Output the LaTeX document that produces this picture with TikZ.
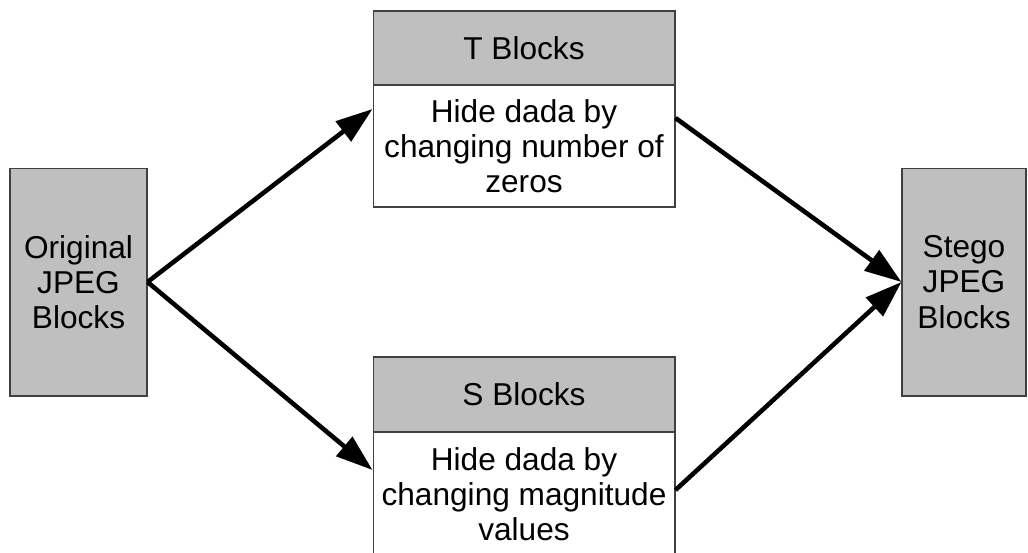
\documentclass[tikz,border=0pt]{standalone}
\usepackage{fontspec}
\setmainfont{Liberation Sans}
\usetikzlibrary{arrows.meta}

\begin{document}
\begin{tikzpicture}[x=0.02cm, y=-0.02cm,
        every node/.style={font=\fontsize{18}{20}\selectfont, align=center, inner sep=0pt},
        graybox/.style={draw=black!75, line width=0.6pt, fill=black!25},
        whitebox/.style={draw=black!75, line width=0.6pt, fill=white},
        flow/.style={line width=2.6pt, -{Triangle[length=21pt,width=14pt]}}
    ]
        \useasboundingbox (0,0) rectangle (1028,552);

        \node [graybox, minimum width=2.74cm, minimum height=4.56cm] (orig) at (78.5,282) {Original\\JPEG\\Blocks};
        \node [graybox, minimum width=2.48cm, minimum height=4.56cm] (stego) at (964,282) {Stego\\JPEG\\Blocks};

        \node [whitebox, minimum width=6.04cm, minimum height=2.44cm] (tbody) at (524,146) {Hide dada by\\changing number of\\zeros};
        \node [graybox, minimum width=6.04cm, minimum height=1.48cm] (thead) at (524,48) {T Blocks};

        \node [whitebox, minimum width=6.04cm, minimum height=2.48cm] (sbody) at (524,494) {Hide dada by\\changing magnitude\\values};
        \node [graybox, minimum width=6.04cm, minimum height=1.5cm] (shead) at (524,394.5) {S Blocks};

        \draw [flow] (orig.east) -- ([yshift=0.74cm]tbody.west);
        \draw [flow] (orig.east) -- ([yshift=0.48cm]sbody.west);
        \draw [flow] ([yshift=0.56cm]tbody.east) -- (stego.west);
        \draw [flow] ([yshift=0.08cm]sbody.east) -- (stego.west);
    \end{tikzpicture}
\end{document}
